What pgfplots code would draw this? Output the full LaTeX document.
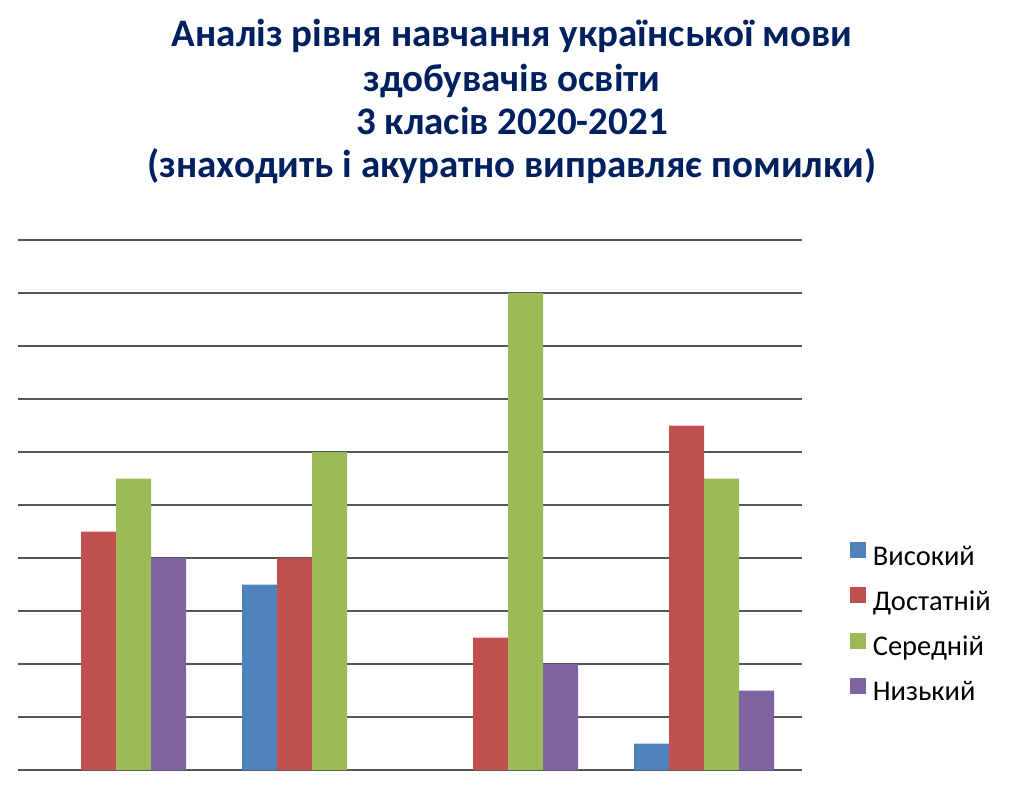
\documentclass[border=0pt]{standalone}
\usepackage{fontspec}
\setmainfont{Carlito}
\usepackage{pgfplots}
\pgfplotsset{compat=1.18}
\definecolor{titleblue}{HTML}{002060}
\definecolor{cHigh}{HTML}{4F81BD}
\definecolor{cSuff}{HTML}{C0504D}
\definecolor{cMid}{HTML}{9BBB59}
\definecolor{cLow}{HTML}{8064A2}
\definecolor{gridc}{HTML}{555555}
\begin{document}
\begin{tikzpicture}
\path (0pt,0pt) rectangle (1024pt,788pt);
\begin{scope}[every node/.style={font=\fontsize{39}{44}\selectfont\bfseries, text=titleblue, anchor=base, inner sep=0pt}]
\node at (512pt,741pt) {Аналіз рівня навчання української мови};
\node at (512pt,696pt) {здобувачів освіти};
\node at (512pt,653pt) {3 класів 2020-2021};
\node at (512pt,610pt) {(знаходить і акуратно виправляє помилки)};
\end{scope}
\begin{axis}[
    at={(18pt,18pt)}, anchor=south west,
    scale only axis, width=784pt, height=530pt,
    ybar=0pt, bar width=35pt,
    xmin=-0.5, xmax=3.5, ymin=0, ymax=10,
    axis line style={draw=none}, major tick length=0pt,
    ytick={0,1,...,10}, yticklabels={}, xtick=\empty,
    ymajorgrids, major grid style={gridc, line width=1.4pt},
    clip=false,
    legend style={draw=none, at={(rel axis cs:1.061,0.430)}, anchor=north west,
        inner sep=0pt, outer sep=0pt,
        font=\fontsize{28.5}{32}\selectfont, row sep=16.2pt,
        nodes={inner sep=0pt, text height=20pt, text depth=6pt},
        /tikz/every odd column/.append style={column sep=7pt}},
    legend cell align=left,
    legend image code/.code={\fill[#1] (0pt,0pt) rectangle (16pt,16pt);},
]
\addplot[fill=cHigh, draw=none] coordinates {(1,3.5) (3,0.5)};
\addplot[fill=cSuff, draw=none] coordinates {(0,4.5) (1,4) (2,2.5) (3,6.5)};
\addplot[fill=cMid, draw=none] coordinates {(0,5.5) (1,6) (2,9) (3,5.5)};
\addplot[fill=cLow, draw=none] coordinates {(0,4) (2,2) (3,1.5)};
\legend{Високий, Достатній, Середній, Низький}
\end{axis}
\end{tikzpicture}
\end{document}
